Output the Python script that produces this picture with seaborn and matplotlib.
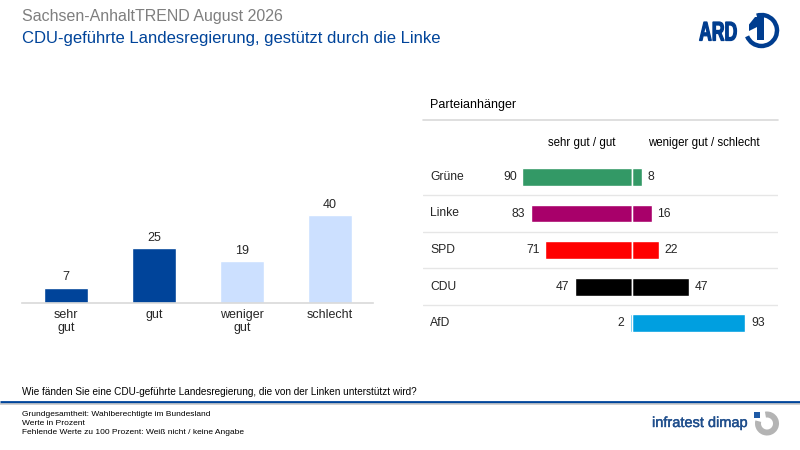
import matplotlib
matplotlib.use("Agg")
import matplotlib.pyplot as plt
import matplotlib.patheffects as pe
import seaborn as sns
import pandas as pd
from matplotlib.textpath import TextPath
from matplotlib.font_manager import FontProperties
from matplotlib.patches import PathPatch, Arc, Wedge, Rectangle, Polygon
from matplotlib.transforms import Affine2D

# ---- data ----
categories = ["sehr\ngut", "gut", "weniger\ngut", "schlecht"]
values = [7, 25, 19, 40]
cat_colors = ["#00449A", "#00449A", "#CCE0FF", "#CCE0FF"]

parties = ["Grüne", "Linke", "SPD", "CDU", "AfD"]
positive = [90, 83, 71, 47, 2]
negative = [8, 16, 22, 47, 93]
party_colors = ["#339966", "#A8006A", "#FF0000", "#000000", "#009FE0"]

title = "Sachsen-AnhaltTREND August 2026"
subtitle = "CDU-geführte Landesregierung, gestützt durch die Linke"
question = "Wie fänden Sie eine CDU-geführte Landesregierung, die von der Linken unterstützt wird?"
notes = ["Grundgesamtheit: Wahlberechtigte im Bundesland",
         "Werte in Prozent",
         "Fehlende Werte zu 100 Prozent: Weiß nicht / keine Angabe"]

sns.set_theme(style="white")
plt.rcParams["font.family"] = ["Liberation Sans", "DejaVu Sans"]

W, H = 800, 450
fig = plt.figure(figsize=(8, 4.5), dpi=100)
fig.patch.set_facecolor("white")


def px_axes(x0, y0, x1, y1, **kw):
    return fig.add_axes([x0 / W, 1 - y1 / H, (x1 - x0) / W, (y1 - y0) / H], **kw)


# overlay in pixel coordinates (y axis points down, so angles are mirrored)
ov = px_axes(0, 0, W, H, zorder=0)
ov.set_xlim(0, W)
ov.set_ylim(H, 0)
ov.axis("off")

ov.text(22, 17, title, color="#7F7F7F", fontsize=11.5, va="center", ha="left")
ov.text(22, 39, subtitle, color="#00449A", fontsize=12, va="center", ha="left")

# ARD logo
ard_blue = "#003D8F"
fp_b = FontProperties(family="Liberation Sans", weight="bold")
tp = TextPath((0, 0), "ARD", prop=fp_b, size=1)
ext = tp.get_extents()
sx = 37 / ext.width
sy = 18.5 / ext.height
tr = Affine2D().translate(-ext.x0, -ext.y0).scale(sx, -sy).translate(699.5, 40.5)
ov.add_patch(PathPatch(tr.transform_path(tp), facecolor=ard_blue, edgecolor=ard_blue, lw=0.9))
ov.add_patch(Arc((761.5, 30.5), 31, 31, theta1=-108, theta2=158, color=ard_blue, lw=3.2))
ov.add_patch(Polygon([(755, 17), (764, 17), (764, 40), (757, 40),
                      (757, 27), (749, 31), (749, 24.5)], closed=True,
                     facecolor=ard_blue, edgecolor="none"))

# question and rules
ov.text(22, 392, question, color="#000000", fontsize=7.2, va="center", ha="left")
ov.plot([0, W], [401.5, 401.5], color="#00449A", lw=2.0, solid_capstyle="butt")
ov.plot([0, W], [403.6, 403.6], color="#C8C8C8", lw=1.2, solid_capstyle="butt")
for i, n in enumerate(notes):
    ov.text(22, 414.5 + i * 9.2, n, color="#000000", fontsize=6.0, va="center", ha="left")

# infratest dimap logo
ov.text(652, 423, "infratest dimap", color="#1F4E8C", fontsize=10.5, va="center", ha="left",
        path_effects=[pe.withStroke(linewidth=0.3, foreground="#1F4E8C")])
ov.add_patch(Wedge((767, 423.5), 12, -100, 195, width=6, color="#B4B4B4", lw=0))
ov.add_patch(Rectangle((754, 412), 6, 5.5, color="#1F5AA6", lw=0))

# right panel header
ov.text(430, 105, "Parteianhänger", color="#000000", fontsize=9, va="center", ha="left")
ov.plot([423, 778], [120, 120], color="#D9D9D9", lw=1.2)
ov.text(582, 143, "sehr gut / gut", color="#000000", fontsize=8.3, va="center", ha="center")
ov.text(704, 143, "weniger gut / schlecht", color="#000000", fontsize=8.3, va="center", ha="center")

# ---- left bar chart ----
axl = px_axes(22, 175, 373, 303)
df_l = pd.DataFrame({"cat": categories, "val": values})
sns.barplot(data=df_l, x="cat", y="val", hue="cat", palette=cat_colors,
            width=0.5, legend=False, ax=axl, saturation=1)
axl.set_xlim(-0.5, 3.49)
axl.set_ylim(0, 128 / 2.2)
axl.set_xlabel("")
axl.set_ylabel("")
axl.set_yticks([])
for s in ["top", "right", "left"]:
    axl.spines[s].set_visible(False)
axl.spines["bottom"].set_color("#D9D9D9")
axl.spines["bottom"].set_linewidth(1.2)
axl.tick_params(axis="x", length=0, pad=4, labelsize=9)
axl.patch.set_alpha(0)
for i, v in enumerate(values):
    axl.annotate(str(v), (i, v), xytext=(0, 3), textcoords="offset points",
                 ha="center", va="bottom", fontsize=9)

# ---- right diverging bar chart ----
axr = px_axes(423, 160, 778, 341)
df_p = pd.DataFrame({"party": parties, "pos": [-p for p in positive], "neg": negative})
sns.barplot(data=df_p, x="pos", y="party", hue="party", palette=party_colors,
            orient="h", width=0.49, legend=False, ax=axr, saturation=1)
sns.barplot(data=df_p, x="neg", y="party", hue="party", palette=party_colors,
            orient="h", width=0.49, legend=False, ax=axr, saturation=1)
axr.set_xlim((423 - 632) / 1.22, (778 - 632) / 1.22)
axr.set_ylim(4.49, -0.466)
axr.axvline(0, color="white", lw=0.9, alpha=0.7)
for i in range(len(parties) - 1):
    axr.axhline(i + 0.5, color="#E6E6E6", lw=1.0)
axr.axis("off")
axr.patch.set_alpha(0)
for i, (p, n) in enumerate(zip(positive, negative)):
    axr.annotate(str(p), (-p, i), xytext=(-4, 0), textcoords="offset points",
                 ha="right", va="center", fontsize=8.7)
    axr.annotate(str(n), (n, i), xytext=(4, 0), textcoords="offset points",
                 ha="left", va="center", fontsize=8.7)

# row labels in pixel coordinates
for i, name in enumerate(parties):
    ov.text(430, 177 + 36.5 * i, name, fontsize=8.7, va="center", ha="left")

fig.savefig("out.png", dpi=100, facecolor="white")
